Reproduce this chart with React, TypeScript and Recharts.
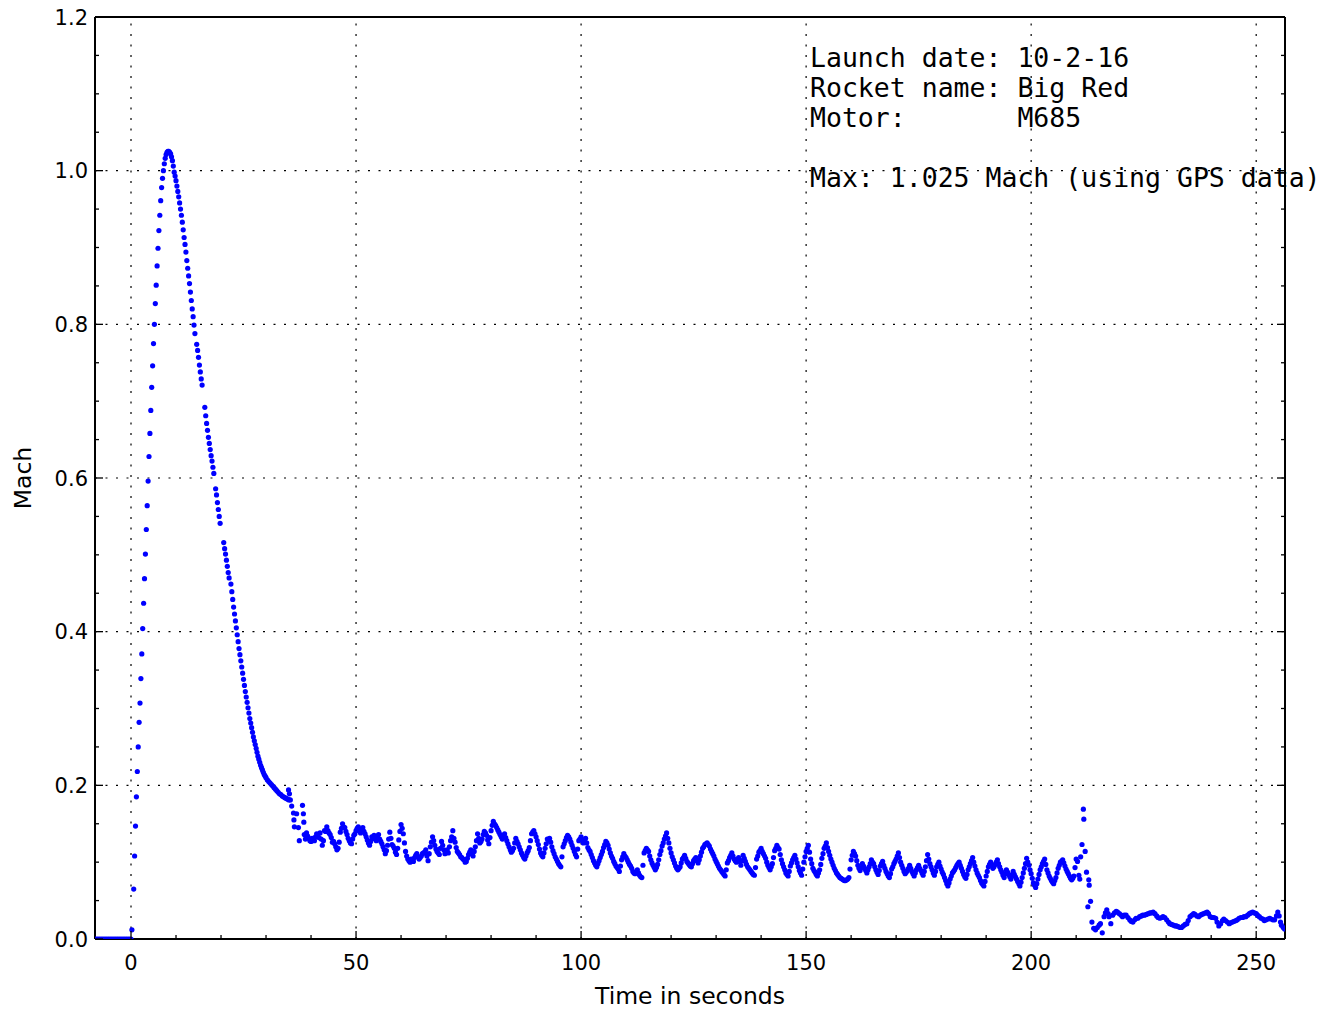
import { ScatterChart, Scatter, XAxis, YAxis, ReferenceLine } from "recharts";

// time (s), Mach
const padData = [
  [-8.0, 0], [-7.6, 0], [-7.2, 0], [-6.8, 0], [-6.4, 0], [-6.0, 0], [-5.6, 0], [-5.2, 0], [-4.8, 0], [-4.4, 0],
  [-4.0, 0], [-3.6, 0], [-3.2, 0], [-2.8, 0], [-2.4, 0], [-2.0, 0], [-1.6, 0], [-1.2, 0], [-0.8, 0], [-0.4, 0], [0.0, 0],
];

const boostData = [
  [0.2, 0.012], [0.6, 0.065], [0.8, 0.108], [1.0, 0.147], [1.2, 0.185], [1.4, 0.218], [1.6, 0.25], [1.8, 0.282],
  [2.0, 0.307], [2.2, 0.339], [2.4, 0.371], [2.6, 0.404], [2.8, 0.437], [3.0, 0.469], [3.2, 0.501], [3.4, 0.533],
  [3.6, 0.564], [3.8, 0.596], [4.0, 0.628], [4.2, 0.658], [4.4, 0.688], [4.6, 0.718], [4.8, 0.746], [5.0, 0.775],
  [5.2, 0.8], [5.4, 0.827], [5.6, 0.851], [5.8, 0.876], [6.0, 0.899], [6.2, 0.922], [6.4, 0.942], [6.6, 0.961],
  [6.8, 0.978], [7.0, 0.99], [7.2, 1.0], [7.4, 1.009], [7.6, 1.016], [7.8, 1.021], [8.0, 1.024], [8.2, 1.025],
  [8.4, 1.025], [8.6, 1.024], [8.8, 1.022], [9.0, 1.018], [9.2, 1.013], [9.4, 1.006], [9.6, 0.998],
];

const coastData = [
  [9.8, 0.993], [10.0, 0.987], [10.2, 0.98], [10.4, 0.973], [10.6, 0.966], [10.8, 0.958], [11.0, 0.95], [11.2, 0.942],
  [11.4, 0.933], [11.6, 0.923], [11.8, 0.913], [12.0, 0.904], [12.2, 0.894], [12.4, 0.883], [12.6, 0.873], [12.8, 0.863],
  [13.0, 0.853], [13.2, 0.842], [13.4, 0.831], [13.6, 0.82], [13.8, 0.81], [14.0, 0.799], [14.2, 0.788],
  [14.6, 0.774], [14.8, 0.766], [15.0, 0.757], [15.2, 0.747], [15.4, 0.738], [15.6, 0.729], [15.8, 0.721],
  [16.4, 0.692], [16.6, 0.681], [16.8, 0.671], [17.0, 0.662], [17.2, 0.653], [17.4, 0.645], [17.6, 0.637], [17.8, 0.629],
  [18.0, 0.622], [18.2, 0.614], [18.4, 0.606],
  [18.8, 0.586], [19.0, 0.578], [19.2, 0.568], [19.4, 0.559], [19.6, 0.55], [19.8, 0.541],
  [20.6, 0.516], [20.8, 0.508], [21.0, 0.501], [21.2, 0.493], [21.4, 0.485], [21.6, 0.477], [21.8, 0.47],
  [22.2, 0.462], [22.4, 0.452], [22.6, 0.442], [22.8, 0.432], [23.0, 0.423], [23.2, 0.414], [23.4, 0.405], [23.6, 0.396],
  [23.8, 0.387], [24.0, 0.378], [24.2, 0.37], [24.4, 0.362], [24.6, 0.354], [24.8, 0.346], [25.0, 0.338], [25.2, 0.33],
  [25.4, 0.322], [25.6, 0.315], [25.8, 0.308], [26.0, 0.301], [26.2, 0.294], [26.4, 0.287], [26.6, 0.281], [26.8, 0.275],
  [27.0, 0.269], [27.2, 0.263], [27.4, 0.258], [27.6, 0.253], [27.8, 0.248], [28.0, 0.243], [28.2, 0.238], [28.4, 0.234],
  [28.6, 0.23], [28.8, 0.226], [29.0, 0.223], [29.2, 0.22], [29.4, 0.217], [29.6, 0.214], [29.8, 0.212], [30.0, 0.21],
  [30.3, 0.207], [30.6, 0.205], [30.9, 0.203], [31.2, 0.201], [31.5, 0.199], [31.8, 0.197], [32.1, 0.195], [32.4, 0.193],
  [32.7, 0.191], [33.0, 0.189], [33.3, 0.188], [33.6, 0.186], [33.9, 0.185], [34.2, 0.184], [34.5, 0.183], [34.8, 0.182],
  [35.1, 0.181], [35.4, 0.181],
];

const cruiseData = [
  [35.0, 0.194], [35.2, 0.189], [35.7, 0.173], [36.1, 0.164], [36.2, 0.155], [36.3, 0.146], [36.8, 0.163], [37.2, 0.145],
  [37.4, 0.128], [38.1, 0.174], [38.3, 0.163], [38.4, 0.152],
  [38.5, 0.136], [39.0, 0.138], [39.5, 0.131], [40.0, 0.127], [40.5, 0.13], [41.0, 0.133], [41.5, 0.136], [42.0, 0.138],
  [42.5, 0.122], [43.0, 0.141], [43.5, 0.146], [44.0, 0.138], [44.5, 0.132], [45.0, 0.127], [45.5, 0.12], [46.0, 0.118],
  [46.5, 0.139], [47.0, 0.15], [47.5, 0.145], [48.0, 0.136], [48.5, 0.128], [49.0, 0.124], [49.5, 0.135], [50.0, 0.141],
  [50.5, 0.146], [51.0, 0.138], [51.5, 0.145], [52.0, 0.137], [52.5, 0.129], [53.0, 0.122], [53.5, 0.133], [54.0, 0.135],
  [54.5, 0.128], [55.0, 0.136], [55.5, 0.127], [56.0, 0.12], [56.5, 0.111], [57.0, 0.122], [57.5, 0.139], [58.0, 0.123],
  [58.5, 0.118], [59.0, 0.11], [59.5, 0.129], [60.0, 0.149], [60.5, 0.137], [61.0, 0.114], [61.5, 0.104], [62.0, 0.1],
  [62.5, 0.103], [63.0, 0.106], [63.5, 0.111], [64.0, 0.104], [64.5, 0.108], [65.0, 0.112], [65.5, 0.116], [66.0, 0.102],
  [66.5, 0.12], [67.0, 0.133], [67.5, 0.122], [68.0, 0.114], [68.5, 0.11], [69.0, 0.127], [69.5, 0.116], [70.0, 0.113],
  [70.5, 0.112], [71.0, 0.128], [71.5, 0.141], [72.0, 0.126], [72.5, 0.114], [73.0, 0.11], [73.5, 0.106], [74.0, 0.103],
  [74.5, 0.101], [75.0, 0.11], [75.5, 0.116], [76.0, 0.108], [76.5, 0.12], [77.0, 0.137], [77.5, 0.125], [78.0, 0.13],
  [78.5, 0.14], [79.0, 0.135], [79.5, 0.124], [80.0, 0.141], [80.5, 0.153], [81.0, 0.148], [81.5, 0.142], [82.0, 0.136],
  [82.5, 0.13], [83.0, 0.137], [83.5, 0.128], [84.0, 0.12], [84.5, 0.113], [85.0, 0.118], [85.5, 0.131], [86.0, 0.124],
  [86.5, 0.116], [87.0, 0.109], [87.5, 0.104], [88.0, 0.112], [88.5, 0.119], [89.0, 0.137], [89.5, 0.141], [90.0, 0.133],
  [90.5, 0.123], [91.0, 0.112], [91.5, 0.107], [92.0, 0.118], [92.5, 0.13], [93.0, 0.131], [93.5, 0.12], [94.0, 0.111],
  [94.5, 0.104], [95.0, 0.098], [95.5, 0.094], [96.0, 0.12], [96.5, 0.128], [97.0, 0.135], [97.5, 0.13], [98.0, 0.122],
  [98.5, 0.114], [99.0, 0.107], [99.5, 0.128], [100.0, 0.133], [100.5, 0.125], [101.0, 0.131], [101.5, 0.119], [102.0, 0.114],
  [102.5, 0.106], [103.0, 0.099], [103.5, 0.094], [104.0, 0.102], [104.5, 0.11], [105.0, 0.119], [105.5, 0.127], [106.0, 0.122],
  [106.5, 0.112], [107.0, 0.105], [107.5, 0.098], [108.0, 0.093], [108.5, 0.088], [109.0, 0.103], [109.5, 0.111], [110.0, 0.106],
  [110.5, 0.1], [111.0, 0.095], [111.5, 0.088], [112.0, 0.085], [112.5, 0.09], [113.0, 0.083], [113.5, 0.08], [114.0, 0.112],
  [114.5, 0.118], [115.0, 0.114], [115.5, 0.103], [116.0, 0.096], [116.5, 0.09], [117.0, 0.097], [117.5, 0.11], [118.0, 0.121],
  [118.5, 0.13], [119.0, 0.138], [119.5, 0.125], [120.0, 0.112], [120.5, 0.103], [121.0, 0.095], [121.5, 0.09], [122.0, 0.094],
  [122.5, 0.104], [123.0, 0.109], [123.5, 0.101], [124.0, 0.097], [124.5, 0.094], [125.0, 0.102], [125.5, 0.106], [126.0, 0.099],
  [126.5, 0.108], [127.0, 0.118], [127.5, 0.123], [128.0, 0.125], [128.5, 0.121], [129.0, 0.114], [129.5, 0.108], [130.0, 0.101],
  [130.5, 0.095], [131.0, 0.09], [131.5, 0.086], [132.0, 0.082], [132.5, 0.099], [133.0, 0.106], [133.5, 0.112], [134.0, 0.104],
  [134.5, 0.1], [135.0, 0.106], [135.5, 0.096], [136.0, 0.109], [136.5, 0.101], [137.0, 0.094], [137.5, 0.09], [138.0, 0.086],
  [138.5, 0.083], [139.0, 0.104], [139.5, 0.113], [140.0, 0.118], [140.5, 0.111], [141.0, 0.105], [141.5, 0.096], [142.0, 0.09],
  [142.5, 0.098], [143.0, 0.115], [143.5, 0.122], [144.0, 0.117], [144.5, 0.103], [145.0, 0.094], [145.5, 0.086], [146.0, 0.082],
  [146.5, 0.095], [147.0, 0.103], [147.5, 0.109], [148.0, 0.099], [148.5, 0.089], [149.0, 0.083], [149.5, 0.1], [150.0, 0.114],
  [150.5, 0.122], [151.0, 0.104], [151.5, 0.092], [152.0, 0.087], [152.5, 0.082], [153.0, 0.09], [153.5, 0.105], [154.0, 0.118],
  [154.5, 0.125], [155.0, 0.114], [155.5, 0.104], [156.0, 0.096], [156.5, 0.089], [157.0, 0.084], [157.5, 0.08], [158.0, 0.078],
  [158.5, 0.076], [159.0, 0.077], [159.5, 0.08], [160.0, 0.103], [160.5, 0.114], [161.0, 0.108], [161.5, 0.096], [162.0, 0.089],
  [162.5, 0.098], [163.0, 0.092], [163.5, 0.086], [164.0, 0.094], [164.5, 0.103], [165.0, 0.098], [165.5, 0.09], [166.0, 0.084],
  [166.5, 0.095], [167.0, 0.101], [167.5, 0.092], [168.0, 0.085], [168.5, 0.08], [169.0, 0.091], [169.5, 0.098], [170.0, 0.104],
  [170.5, 0.112], [171.0, 0.1], [171.5, 0.092], [172.0, 0.085], [172.5, 0.089], [173.0, 0.096], [173.5, 0.088], [174.0, 0.082],
  [174.5, 0.09], [175.0, 0.096], [175.5, 0.089], [176.0, 0.083], [176.5, 0.094], [177.0, 0.11], [177.5, 0.098], [178.0, 0.09],
  [178.5, 0.083], [179.0, 0.094], [179.5, 0.1], [180.0, 0.091], [180.5, 0.084], [181.0, 0.076], [181.5, 0.069], [182.0, 0.078],
  [182.5, 0.086], [183.0, 0.09], [183.5, 0.096], [184.0, 0.1], [184.5, 0.092], [185.0, 0.084], [185.5, 0.079], [186.0, 0.09],
  [186.5, 0.098], [187.0, 0.106], [187.5, 0.095], [188.0, 0.086], [188.5, 0.08], [189.0, 0.073], [189.5, 0.069], [190.0, 0.082],
  [190.5, 0.094], [191.0, 0.1], [191.5, 0.092], [192.0, 0.097], [192.5, 0.103], [193.0, 0.094], [193.5, 0.087], [194.0, 0.08],
  [194.5, 0.09], [195.0, 0.084], [195.5, 0.078], [196.0, 0.088], [196.5, 0.081], [197.0, 0.075], [197.5, 0.069], [198.0, 0.08],
  [198.5, 0.092], [199.0, 0.105], [199.5, 0.096], [200.0, 0.085], [200.5, 0.073], [201.0, 0.067], [201.5, 0.078], [202.0, 0.09],
  [202.5, 0.098], [203.0, 0.104], [203.5, 0.09], [204.0, 0.082], [204.5, 0.076], [205.0, 0.072], [205.5, 0.08], [206.0, 0.092],
  [206.5, 0.1], [207.0, 0.103], [207.5, 0.095], [208.0, 0.088], [208.5, 0.082], [209.0, 0.077], [209.5, 0.082], [210.0, 0.104],
  [210.3, 0.101], [210.6, 0.083], [210.8, 0.078], [211.0, 0.107], [211.3, 0.123], [211.6, 0.169], [211.7, 0.156], [212.0, 0.114],
  [212.3, 0.087], [212.6, 0.042], [212.8, 0.077], [212.9, 0.07], [213.2, 0.049],
];

// the samples between the half-second readings above
const cruiseHalfSteps = [
  [38.75, 0.13], [39.25, 0.134], [39.75, 0.128], [40.25, 0.131], [40.75, 0.128], [41.25, 0.137], [41.75, 0.132], [42.25, 0.13],
  [42.75, 0.128], [43.25, 0.14], [43.75, 0.141], [44.25, 0.136], [44.75, 0.126], [45.25, 0.124], [45.75, 0.116], [46.25, 0.126],
  [46.75, 0.144], [47.25, 0.146], [47.75, 0.14], [48.25, 0.131], [48.75, 0.125], [49.25, 0.13], [49.75, 0.137], [50.25, 0.144],
  [50.75, 0.141], [51.25, 0.143], [51.75, 0.14], [52.25, 0.133], [52.75, 0.125], [53.25, 0.127], [53.75, 0.131], [54.25, 0.13],
  [54.75, 0.134], [55.25, 0.13], [55.75, 0.124], [56.25, 0.116], [56.75, 0.115], [57.25, 0.13], [57.75, 0.131], [58.25, 0.121],
  [58.75, 0.113], [59.25, 0.118], [59.75, 0.14], [60.25, 0.144], [60.75, 0.125], [61.25, 0.108], [61.75, 0.102], [62.25, 0.104],
  [62.75, 0.101], [63.25, 0.109], [63.75, 0.107], [64.25, 0.106], [64.75, 0.111], [65.25, 0.113], [65.75, 0.108], [66.25, 0.111],
  [66.75, 0.126], [67.25, 0.128], [67.75, 0.117], [68.25, 0.112], [68.75, 0.118], [69.25, 0.122], [69.75, 0.111], [70.25, 0.116],
  [70.75, 0.12], [71.25, 0.133], [71.75, 0.131], [72.25, 0.119], [72.75, 0.112], [73.25, 0.107], [73.75, 0.104], [74.25, 0.1],
  [74.75, 0.105], [75.25, 0.113], [75.75, 0.111], [76.25, 0.114], [76.75, 0.128], [77.25, 0.131], [77.75, 0.127], [78.25, 0.136],
  [78.75, 0.138], [79.25, 0.129], [79.75, 0.132], [80.25, 0.148], [80.75, 0.15], [81.25, 0.145], [81.75, 0.139], [82.25, 0.133],
  [82.75, 0.134], [83.25, 0.132], [83.75, 0.124], [84.25, 0.116], [84.75, 0.115], [85.25, 0.125], [85.75, 0.127], [86.25, 0.12],
  [86.75, 0.112], [87.25, 0.106], [87.75, 0.108], [88.25, 0.115], [88.75, 0.128], [89.25, 0.139], [89.75, 0.137], [90.25, 0.128],
  [90.75, 0.117], [91.25, 0.109], [91.75, 0.112], [92.25, 0.124], [92.75, 0.129], [93.25, 0.126], [93.75, 0.115], [94.25, 0.107],
  [94.75, 0.101], [95.25, 0.096], [95.75, 0.107], [96.25, 0.124], [96.75, 0.132], [97.25, 0.133], [97.75, 0.126], [98.25, 0.118],
  [98.75, 0.11], [99.25, 0.117], [99.75, 0.13], [100.25, 0.129], [100.75, 0.128], [101.25, 0.125], [101.75, 0.116], [102.25, 0.11],
  [102.75, 0.102], [103.25, 0.096], [103.75, 0.098], [104.25, 0.106], [104.75, 0.114], [105.25, 0.123], [105.75, 0.125], [106.25, 0.117],
  [106.75, 0.108], [107.25, 0.101], [107.75, 0.095], [108.25, 0.091], [108.75, 0.095], [109.25, 0.107], [109.75, 0.108], [110.25, 0.103],
  [110.75, 0.097], [111.25, 0.092], [111.75, 0.086], [112.25, 0.087], [112.75, 0.086], [113.25, 0.081], [113.75, 0.096], [114.25, 0.115],
  [114.75, 0.116], [115.25, 0.108], [115.75, 0.099], [116.25, 0.093], [116.75, 0.093], [117.25, 0.103], [117.75, 0.115], [118.25, 0.125],
  [118.75, 0.134], [119.25, 0.131], [119.75, 0.118], [120.25, 0.107], [120.75, 0.099], [121.25, 0.092], [121.75, 0.092], [122.25, 0.099],
  [122.75, 0.106], [123.25, 0.105], [123.75, 0.099], [124.25, 0.095], [124.75, 0.098], [125.25, 0.104], [125.75, 0.102], [126.25, 0.103],
  [126.75, 0.113], [127.25, 0.12], [127.75, 0.124], [128.25, 0.123], [128.75, 0.117], [129.25, 0.111], [129.75, 0.104], [130.25, 0.098],
  [130.75, 0.092], [131.25, 0.088], [131.75, 0.084], [132.25, 0.09], [132.75, 0.102], [133.25, 0.109], [133.75, 0.108], [134.25, 0.102],
  [134.75, 0.103], [135.25, 0.101], [135.75, 0.102], [136.25, 0.105], [136.75, 0.097], [137.25, 0.092], [137.75, 0.088], [138.25, 0.084],
  [138.75, 0.093], [139.25, 0.108], [139.75, 0.115], [140.25, 0.114], [140.75, 0.108], [141.25, 0.1], [141.75, 0.093], [142.25, 0.094],
  [142.75, 0.106], [143.25, 0.118], [143.75, 0.119], [144.25, 0.11], [144.75, 0.098], [145.25, 0.09], [145.75, 0.084], [146.25, 0.088],
  [146.75, 0.099], [147.25, 0.106], [147.75, 0.104], [148.25, 0.094], [148.75, 0.086], [149.25, 0.091], [149.75, 0.107], [150.25, 0.118],
  [150.75, 0.113], [151.25, 0.098], [151.75, 0.089], [152.25, 0.084], [152.75, 0.086], [153.25, 0.097], [153.75, 0.111], [154.25, 0.121],
  [154.75, 0.119], [155.25, 0.109], [155.75, 0.1], [156.25, 0.092], [156.75, 0.086], [157.25, 0.082], [157.75, 0.079], [158.25, 0.077],
  [158.75, 0.076], [159.25, 0.078], [159.75, 0.091], [160.25, 0.109], [160.75, 0.111], [161.25, 0.102], [161.75, 0.092], [162.25, 0.093],
  [162.75, 0.095], [163.25, 0.089], [163.75, 0.09], [164.25, 0.098], [164.75, 0.1], [165.25, 0.094], [165.75, 0.087], [166.25, 0.089],
  [166.75, 0.098], [167.25, 0.096], [167.75, 0.088], [168.25, 0.082], [168.75, 0.085], [169.25, 0.094], [169.75, 0.101], [170.25, 0.108],
  [170.75, 0.106], [171.25, 0.096], [171.75, 0.088], [172.25, 0.087], [172.75, 0.092], [173.25, 0.092], [173.75, 0.085], [174.25, 0.086],
  [174.75, 0.093], [175.25, 0.092], [175.75, 0.086], [176.25, 0.088], [176.75, 0.102], [177.25, 0.104], [177.75, 0.094], [178.25, 0.086],
  [178.75, 0.088], [179.25, 0.097], [179.75, 0.095], [180.25, 0.087], [180.75, 0.08], [181.25, 0.072], [181.75, 0.073], [182.25, 0.082],
  [182.75, 0.088], [183.25, 0.093], [183.75, 0.098], [184.25, 0.096], [184.75, 0.088], [185.25, 0.081], [185.75, 0.084], [186.25, 0.094],
  [186.75, 0.102], [187.25, 0.1], [187.75, 0.09], [188.25, 0.083], [188.75, 0.076], [189.25, 0.071], [189.75, 0.075], [190.25, 0.088],
  [190.75, 0.097], [191.25, 0.096], [191.75, 0.094], [192.25, 0.1], [192.75, 0.098], [193.25, 0.09], [193.75, 0.083], [194.25, 0.085],
  [194.75, 0.087], [195.25, 0.081], [195.75, 0.083], [196.25, 0.084], [196.75, 0.078], [197.25, 0.072], [197.75, 0.074], [198.25, 0.086],
  [198.75, 0.098], [199.25, 0.1], [199.75, 0.09], [200.25, 0.079], [200.75, 0.07], [201.25, 0.072], [201.75, 0.084], [202.25, 0.094],
  [202.75, 0.101], [203.25, 0.097], [203.75, 0.086], [204.25, 0.079], [204.75, 0.074], [205.25, 0.076], [205.75, 0.086], [206.25, 0.096],
  [206.75, 0.101], [207.25, 0.099], [207.75, 0.091], [208.25, 0.085], [208.75, 0.079], [209.25, 0.079], [209.75, 0.093],
];

const recoveryData = [
  [213.5, 0.022], [213.9, 0.014], [214.3, 0.012], [214.7, 0.015], [215.1, 0.018], [215.4, 0.02], [215.8, 0.008], [216.2, 0.029],
  [216.5, 0.034], [216.8, 0.038], [217.1, 0.033], [217.3, 0.029], [217.7, 0.02], [218.1, 0.031], [218.5, 0.034], [218.9, 0.036],
  [219.2, 0.035], [219.6, 0.033], [220.0, 0.031], [220.3, 0.029], [220.7, 0.031], [221.1, 0.031], [221.5, 0.028], [221.9, 0.025],
  [222.2, 0.023], [222.6, 0.022], [223.0, 0.025], [223.3, 0.027], [223.7, 0.027], [224.1, 0.029], [224.5, 0.03], [224.8, 0.031],
  [225.2, 0.031], [225.6, 0.032], [226.0, 0.033], [226.4, 0.034], [226.7, 0.034], [227.1, 0.035], [227.5, 0.033], [227.9, 0.03],
  [228.2, 0.028], [228.6, 0.027], [229.0, 0.028], [229.3, 0.029], [229.7, 0.028], [230.1, 0.025], [230.5, 0.022], [230.8, 0.02],
  [231.2, 0.019], [231.6, 0.018], [232.0, 0.017], [232.3, 0.017], [232.7, 0.016], [233.1, 0.015], [233.4, 0.015], [233.8, 0.017],
  [234.2, 0.019], [234.6, 0.02], [234.9, 0.024], [235.3, 0.029], [235.7, 0.031], [236.1, 0.033], [236.4, 0.032], [236.8, 0.03],
  [237.2, 0.029], [237.6, 0.031], [237.9, 0.032], [238.3, 0.033], [238.7, 0.034], [239.1, 0.035], [239.4, 0.033], [239.8, 0.029],
  [240.2, 0.028], [240.6, 0.028], [241.0, 0.027], [241.3, 0.022], [241.7, 0.017], [242.1, 0.02], [242.5, 0.024], [242.8, 0.026],
  [243.2, 0.024], [243.6, 0.022], [244.0, 0.02], [244.3, 0.021], [244.7, 0.022], [245.1, 0.023], [245.5, 0.024], [245.8, 0.025],
  [246.2, 0.027], [246.6, 0.028], [247.0, 0.028], [247.3, 0.029], [247.7, 0.029], [248.1, 0.031], [248.5, 0.033], [248.8, 0.034],
  [249.2, 0.035], [249.6, 0.034], [250.0, 0.033], [250.3, 0.031], [250.7, 0.029], [251.1, 0.027], [251.5, 0.026], [251.8, 0.024],
  [252.2, 0.025], [252.6, 0.026], [253.0, 0.027], [253.3, 0.026], [253.7, 0.025], [254.1, 0.025], [254.5, 0.03], [254.8, 0.035],
  [255.1, 0.03], [255.4, 0.022], [255.6, 0.018], [256.0, 0.015], [256.3, 0.013],
];

const xTicks = [0, 10, 20, 30, 40, 50, 60, 70, 80, 90, 100, 110, 120, 130, 140, 150, 160, 170, 180, 190, 200, 210, 220, 230, 240, 250];
const xMajor = [0, 50, 100, 150, 200, 250];
const yTicks = [0, 0.05, 0.1, 0.15, 0.2, 0.25, 0.3, 0.35, 0.4, 0.45, 0.5, 0.55, 0.6, 0.65, 0.7, 0.75, 0.8, 0.85, 0.9, 0.95, 1.0, 1.05, 1.1, 1.15, 1.2];
const yMajor = [0, 0.2, 0.4, 0.6, 0.8, 1.0, 1.2];

const notes = ["Launch date: 10-2-16", "Rocket name: Big Red", "Motor:       M685", "", "Max: 1.025 Mach (using GPS data)"];

const FONT = "DejaVu Sans";
const MAJOR = 8;
const MINOR = 4;
const DOT = "#0000ff";

const toPoints = (rows: number[][]) => rows.map(([t, m]) => ({ t, m }));
const isMajor = (list: number[], v: number) => list.some((m) => Math.abs(m - v) < 1e-9);

const BottomTick = ({ x, y, payload }: any) => {
  const major = isMajor(xMajor, payload.value);
  return (
    <g>
      <line x1={x} x2={x} y1={y} y2={y - (major ? MAJOR : MINOR)} stroke="#000" strokeWidth={1.3} />
      {major && (
        <text x={x} y={y + 31} textAnchor="middle" fontSize={21} fontFamily={FONT} fill="#000">
          {payload.value}
        </text>
      )}
    </g>
  );
};

const TopTick = ({ x, y, payload }: any) => {
  const major = isMajor(xMajor, payload.value);
  return <line x1={x} x2={x} y1={y} y2={y + (major ? MAJOR : MINOR)} stroke="#000" strokeWidth={1.3} />;
};

const LeftTick = ({ x, y, payload }: any) => {
  const major = isMajor(yMajor, payload.value);
  return (
    <g>
      <line x1={x} x2={x + (major ? MAJOR : MINOR)} y1={y} y2={y} stroke="#000" strokeWidth={1.3} />
      {major && (
        <text x={x - 7} y={y + 7.5} textAnchor="end" fontSize={21} fontFamily={FONT} fill="#000">
          {payload.value.toFixed(1)}
        </text>
      )}
    </g>
  );
};

const RightTick = ({ x, y, payload }: any) => {
  const major = isMajor(yMajor, payload.value);
  return <line x1={x} x2={x - (major ? MAJOR : MINOR)} y1={y} y2={y} stroke="#000" strokeWidth={1.3} />;
};

const dot = (p: any) => <circle cx={p.cx} cy={p.cy} r={2.6} fill={DOT} />;

const series = [padData, boostData, coastData, cruiseData, cruiseHalfSteps, recoveryData];

export default function App() {
  const axisLine = { stroke: "#000", strokeWidth: 2 };
  return (
    <div style={{ position: "absolute", left: 0, top: 0, width: 1333, height: 1010, background: "#fff" }}>
      <ScatterChart width={1333} height={1010} margin={{ top: 16, right: 47, bottom: 0, left: 0 }}>
        <XAxis
          xAxisId="x"
          type="number"
          dataKey="t"
          domain={[-8, 256.4]}
          allowDataOverflow
          ticks={xTicks}
          interval={0}
          height={71}
          tickSize={0}
          tickMargin={0}
          tickLine={false}
          axisLine={axisLine}
          tick={<BottomTick />}
          label={{
            content: ({ viewBox }: any) => (
              <text x={viewBox.x + viewBox.width / 2} y={viewBox.y + 65} textAnchor="middle" fontSize={23.5} fontFamily={FONT} fill="#000">
                Time in seconds
              </text>
            ),
          }}
        />
        <XAxis
          xAxisId="top"
          orientation="top"
          type="number"
          domain={[-8, 256.4]}
          allowDataOverflow
          ticks={xTicks}
          interval={0}
          height={1}
          tickSize={0}
          tickMargin={0}
          tickLine={false}
          axisLine={axisLine}
          tick={<TopTick />}
        />
        <YAxis
          yAxisId="y"
          type="number"
          dataKey="m"
          domain={[0, 1.2]}
          allowDataOverflow
          ticks={yTicks}
          interval={0}
          width={95}
          tickSize={0}
          tickMargin={0}
          tickLine={false}
          axisLine={axisLine}
          tick={<LeftTick />}
          label={{
            content: ({ viewBox }: any) => {
              const cx = viewBox.x + 31;
              const cy = viewBox.y + viewBox.height / 2;
              return (
                <text x={cx} y={cy} transform={`rotate(-90 ${cx} ${cy})`} textAnchor="middle" fontSize={23.5} fontFamily={FONT} fill="#000">
                  Mach
                </text>
              );
            },
          }}
        />
        <YAxis
          yAxisId="right"
          orientation="right"
          type="number"
          domain={[0, 1.2]}
          allowDataOverflow
          ticks={yTicks}
          interval={0}
          width={1}
          tickSize={0}
          tickMargin={0}
          tickLine={false}
          axisLine={axisLine}
          tick={<RightTick />}
        />
        {xMajor.map((v) => (
          <ReferenceLine key={`vx${v}`} xAxisId="x" yAxisId="y" x={v} stroke="#000" strokeWidth={1.2} strokeDasharray="2 8.5" />
        ))}
        {yMajor.slice(1, -1).map((v) => (
          <ReferenceLine key={`hy${v}`} xAxisId="x" yAxisId="y" y={v} stroke="#000" strokeWidth={1.2} strokeDasharray="2 8.5" />
        ))}
        {series.map((rows, i) => (
          <Scatter key={i} xAxisId="x" yAxisId="y" data={toPoints(rows)} fill={DOT} shape={dot} isAnimationActive={false} />
        ))}
      </ScatterChart>
      <div
        style={{
          position: "absolute",
          left: 810,
          top: 43,
          fontFamily: "DejaVu Sans Mono",
          fontSize: 26.5,
          lineHeight: "30px",
          whiteSpace: "pre",
          color: "#000",
        }}
      >
        {notes.map((line, i) => (
          <div key={i} style={{ height: 30 }}>{line}</div>
        ))}
      </div>
    </div>
  );
}
